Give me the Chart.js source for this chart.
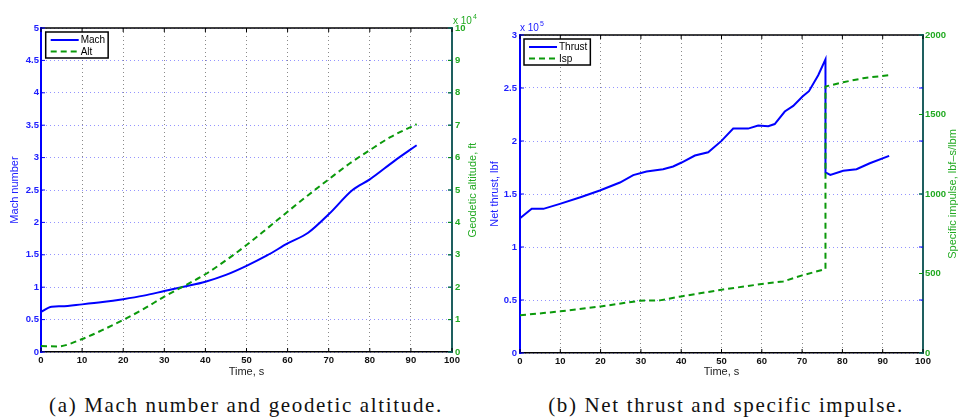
<!DOCTYPE html>
<html>
<head>
<meta charset="utf-8">
<script src="https://cdn.jsdelivr.net/npm/chart.js@4.4.1/dist/chart.umd.min.js"></script>
<style>
  body { margin: 0; background: #fff; }
  #wrap { position: relative; width: 958px; height: 417px; overflow: hidden; }
  canvas { position: absolute; top: 0; }
  .cap {
    position: absolute; top: 395px; width: 500px; text-align: center;
    font: 21px "Liberation Serif", serif; line-height: 20px; letter-spacing: 1.65px;
    color: #111; white-space: nowrap;
  }
</style>
</head>
<body>
<div id="wrap">
  <canvas id="chartMach" width="484" height="392" style="left:0"></canvas>
  <canvas id="chartThrust" width="474" height="392" style="left:484px"></canvas>
  <div class="cap" style="left:-4px">(a) Mach number and geodetic altitude.</div>
  <div class="cap" style="left:476px">(b) Net thrust and specific impulse.</div>
</div>
<script>
// dados
const machTime = [0, 2.6, 5, 10, 15, 20, 25, 30, 35, 40, 45, 50, 55, 60, 65, 70, 75.8, 80, 86, 91.4];
const machValues = [0.62, 0.70, 0.705, 0.735, 0.77, 0.815, 0.87, 0.94, 1.01, 1.085, 1.19, 1.33, 1.49, 1.675, 1.84, 2.125, 2.50, 2.665, 2.95, 3.19];

const altTime = [0, 4, 10, 15, 20, 25, 30, 35, 40, 45, 50, 55, 60, 65, 70, 75, 80, 85, 91.4];
const altFeet = [1850, 1700, 4000, 6800, 9900, 13300, 17100, 20500, 24000, 28300, 33000, 38100, 43300, 48400, 53300, 58100, 62300, 66300, 70300];

const thrustTime = [0, 2.9, 5.8, 9.9, 15, 19.8, 24.8, 28.1, 31.4, 35.5, 38, 40.1, 43.4, 46.7, 50, 52.9, 56.6, 59.1, 61.6, 63.2, 65.7, 67.8, 70.1, 71.7, 74, 75.8, 75.8, 77, 80.2, 83.5, 86.8, 91.6];
const thrustLbf = [127200, 136000, 136000, 140700, 147000, 153300, 160800, 167800, 171200, 173400, 176000, 179700, 186300, 189400, 200100, 211700, 211700, 214600, 214000, 216000, 227800, 233100, 241900, 247000, 262000, 277000, 170300, 168000, 172000, 173400, 179000, 186000];

const ispTime = [0, 5.8, 10, 20, 29.8, 34.7, 40, 50, 60, 65.3, 70, 75.8, 75.8, 80.2, 85.1, 91.6];
const ispValues = [237, 251, 262, 293, 329, 331, 356, 398, 434, 450, 488, 528, 1676, 1703, 1728, 1748];

const timeTicks = { min: 0, max: 100, step: 10 };

const BLUE = '#0000ff', BLUE_TXT = '#2020ff';
const GREEN = '#0b990b', GREEN_TXT = '#22aa22', TEAL = '#1e5f5f';
const FONT = '"Liberation Sans", Arial, Helvetica, sans-serif';

Chart.defaults.font.family = FONT;

function pts(xs, ys) {
    return xs.map((x, i) => ({ x: x, y: ys[i] }));
}

function line(ctx, x1, y1, x2, y2, color, w) {
    ctx.beginPath();
    ctx.strokeStyle = color;
    ctx.lineWidth = w || 1;
    ctx.moveTo(x1, y1);
    ctx.lineTo(x2, y2);
    ctx.stroke();
}

// caixa estilo MATLAB: borda superior, ticks para dentro, legenda, expoentes e titulo direito
const matlabBox = {
    id: 'matlabBox',
    afterDatasetsDraw(chart, args, opts) {
        const { ctx, chartArea: a, scales } = chart;
        ctx.save();
        line(ctx, a.left, a.top, a.right, a.top, '#000', 1.5);

        scales.x.ticks.forEach(t => {
            const px = scales.x.getPixelForValue(t.value);
            line(ctx, px, a.bottom, px, a.bottom - 4, '#000');
            line(ctx, px, a.top, px, a.top + 4, '#000');
        });
        scales.y.ticks.forEach(t => {
            const py = scales.y.getPixelForValue(t.value);
            line(ctx, a.left, py, a.left + 4, py, BLUE);
            line(ctx, a.right, py, a.right - 4, py, BLUE);
        });
        scales.y2.ticks.forEach(t => {
            const py = scales.y2.getPixelForValue(t.value);
            line(ctx, a.right, py, a.right - 4, py, GREEN);
        });

        // legenda
        ctx.font = '10px ' + FONT;
        const items = chart.data.datasets;
        const tw = Math.max(...items.map(d => ctx.measureText(d.label).width));
        const lx = a.left + opts.legendDx, ly = a.top + 4;
        const w = 35 + tw + 3, h = 26;
        ctx.fillStyle = '#fff';
        ctx.fillRect(lx, ly, w, h);
        ctx.strokeStyle = '#000';
        ctx.lineWidth = 1.5;
        ctx.strokeRect(lx, ly, w, h);
        items.forEach((d, i) => {
            const y = ly + 8 + i * 11.5;
            ctx.setLineDash(d.borderDash || []);
            line(ctx, lx + 5, y, lx + 33, y, d.borderColor, 2);
            ctx.setLineDash([]);
            ctx.fillStyle = '#000';
            ctx.textBaseline = 'middle';
            ctx.textAlign = 'left';
            ctx.fillText(d.label, lx + 35, y + 0.5);
        });

        // fator de escala "x 10^n"
        ctx.fillStyle = opts.expColor;
        ctx.textBaseline = 'alphabetic';
        ctx.font = '10px ' + FONT;
        ctx.fillText('x 10', opts.expX, opts.expY);
        const ew = ctx.measureText('x 10').width;
        ctx.font = '7px ' + FONT;
        ctx.fillText(opts.expPow, opts.expX + ew + 1, opts.expY - 5);

        // titulo do eixo direito, lido de baixo para cima
        ctx.translate(opts.titleX, (a.top + a.bottom) / 2);
        ctx.rotate(-Math.PI / 2);
        ctx.font = '11px ' + FONT;
        ctx.fillStyle = GREEN_TXT;
        ctx.textAlign = 'center';
        ctx.textBaseline = 'middle';
        ctx.fillText(opts.title, 0, 0);
        ctx.restore();
    }
};

function xScale(height) {
    return {
        type: 'linear',
        min: timeTicks.min, max: timeTicks.max,
        afterFit: s => { s.height = height; },
        ticks: { stepSize: timeTicks.step, padding: 3, color: '#111', font: { size: 9.5, weight: 'bold' } },
        grid: { color: '#8a8a8a', drawTicks: false },
        border: { color: '#000', width: 1.5, dash: [1, 3] },
        title: { display: true, text: 'Time, s', color: '#222', font: { size: 11 }, padding: { top: 0, bottom: 13 } }
    };
}

function baseOptions(scales, extras) {
    return {
        responsive: false,
        animation: false,
        events: [],
        layout: { padding: { top: extras.top, left: 0, right: 0, bottom: 0 } },
        plugins: { legend: { display: false }, tooltip: { enabled: false }, matlabBox: extras },
        scales: scales
    };
}

// grafico (a): Mach e altitude
new Chart(document.getElementById('chartMach'), {
    type: 'line',
    plugins: [matlabBox],
    data: {
        datasets: [{
            label: 'Mach',
            data: pts(machTime, machValues),
            borderColor: BLUE, borderWidth: 2, pointRadius: 0,
            cubicInterpolationMode: 'monotone', yAxisID: 'y', order: 1
        }, {
            label: 'Alt',
            data: pts(altTime, altFeet),
            borderColor: GREEN, borderWidth: 2, borderDash: [6, 4], pointRadius: 0,
            cubicInterpolationMode: 'monotone', yAxisID: 'y2', order: 0
        }]
    },
    options: baseOptions({
        x: xScale(40),
        y: {
            position: 'left', min: 0, max: 5,
            afterFit: s => { s.width = 41; },
            ticks: { stepSize: 0.5, padding: 2, color: BLUE_TXT, font: { size: 9.5, weight: 'bold' },
                     callback: v => String(+v.toFixed(2)) },
            grid: { color: 'rgba(60,60,255,0.55)', drawTicks: false },
            border: { color: BLUE, width: 2, dash: [1, 3] },
            title: { display: true, text: 'Mach number', color: BLUE_TXT, font: { size: 11 }, padding: { top: 8, bottom: 0 } }
        },
        y2: {
            position: 'right', min: 0, max: 100000,
            afterFit: s => { s.width = 32; },
            ticks: { stepSize: 10000, padding: 3, color: GREEN_TXT, font: { size: 9.5, weight: 'bold' },
                     callback: v => String(v / 10000) },
            grid: { drawOnChartArea: false, drawTicks: false },
            border: { color: TEAL, width: 2 }
        }
    }, {
        top: 28, legendDx: 4.7,
        expX: 453, expY: 24, expPow: '4', expColor: GREEN_TXT,
        titleX: 473, title: 'Geodetic altitude, ft'
    })
});

// grafico (b): empuxo e impulso especifico
new Chart(document.getElementById('chartThrust'), {
    type: 'line',
    plugins: [matlabBox],
    data: {
        datasets: [{
            label: 'Thrust',
            data: pts(thrustTime, thrustLbf),
            borderColor: BLUE, borderWidth: 2, pointRadius: 0,
            tension: 0, yAxisID: 'y', order: 1
        }, {
            label: 'Isp',
            data: pts(ispTime, ispValues),
            borderColor: GREEN, borderWidth: 2, borderDash: [6, 4], pointRadius: 0,
            tension: 0, yAxisID: 'y2', order: 0
        }]
    },
    options: baseOptions({
        x: xScale(39),
        y: {
            position: 'left', min: 0, max: 300000,
            afterFit: s => { s.width = 36; },
            ticks: { stepSize: 50000, padding: 3, color: BLUE_TXT, font: { size: 9.5, weight: 'bold' },
                     callback: v => String(+(v / 100000).toFixed(2)) },
            grid: { color: 'rgba(60,60,255,0.55)', drawTicks: false },
            border: { color: BLUE, width: 2, dash: [1, 3] },
            title: { display: true, text: 'Net thrust, lbf', color: BLUE_TXT, font: { size: 11 }, padding: { top: 4, bottom: 0 } }
        },
        y2: {
            position: 'right', min: 0, max: 2000,
            afterFit: s => { s.width = 35; },
            ticks: { stepSize: 500, padding: 2, color: GREEN_TXT, font: { size: 9.5, weight: 'bold' },
                     callback: v => String(v) },
            grid: { drawOnChartArea: false, drawTicks: false },
            border: { color: TEAL, width: 2 }
        }
    }, {
        top: 35, legendDx: 4,
        expX: 36, expY: 31, expPow: '5', expColor: BLUE_TXT,
        titleX: 469, title: 'Specific impulse, lbf\u2013s/lbm'
    })
});
</script>
</body>
</html>
